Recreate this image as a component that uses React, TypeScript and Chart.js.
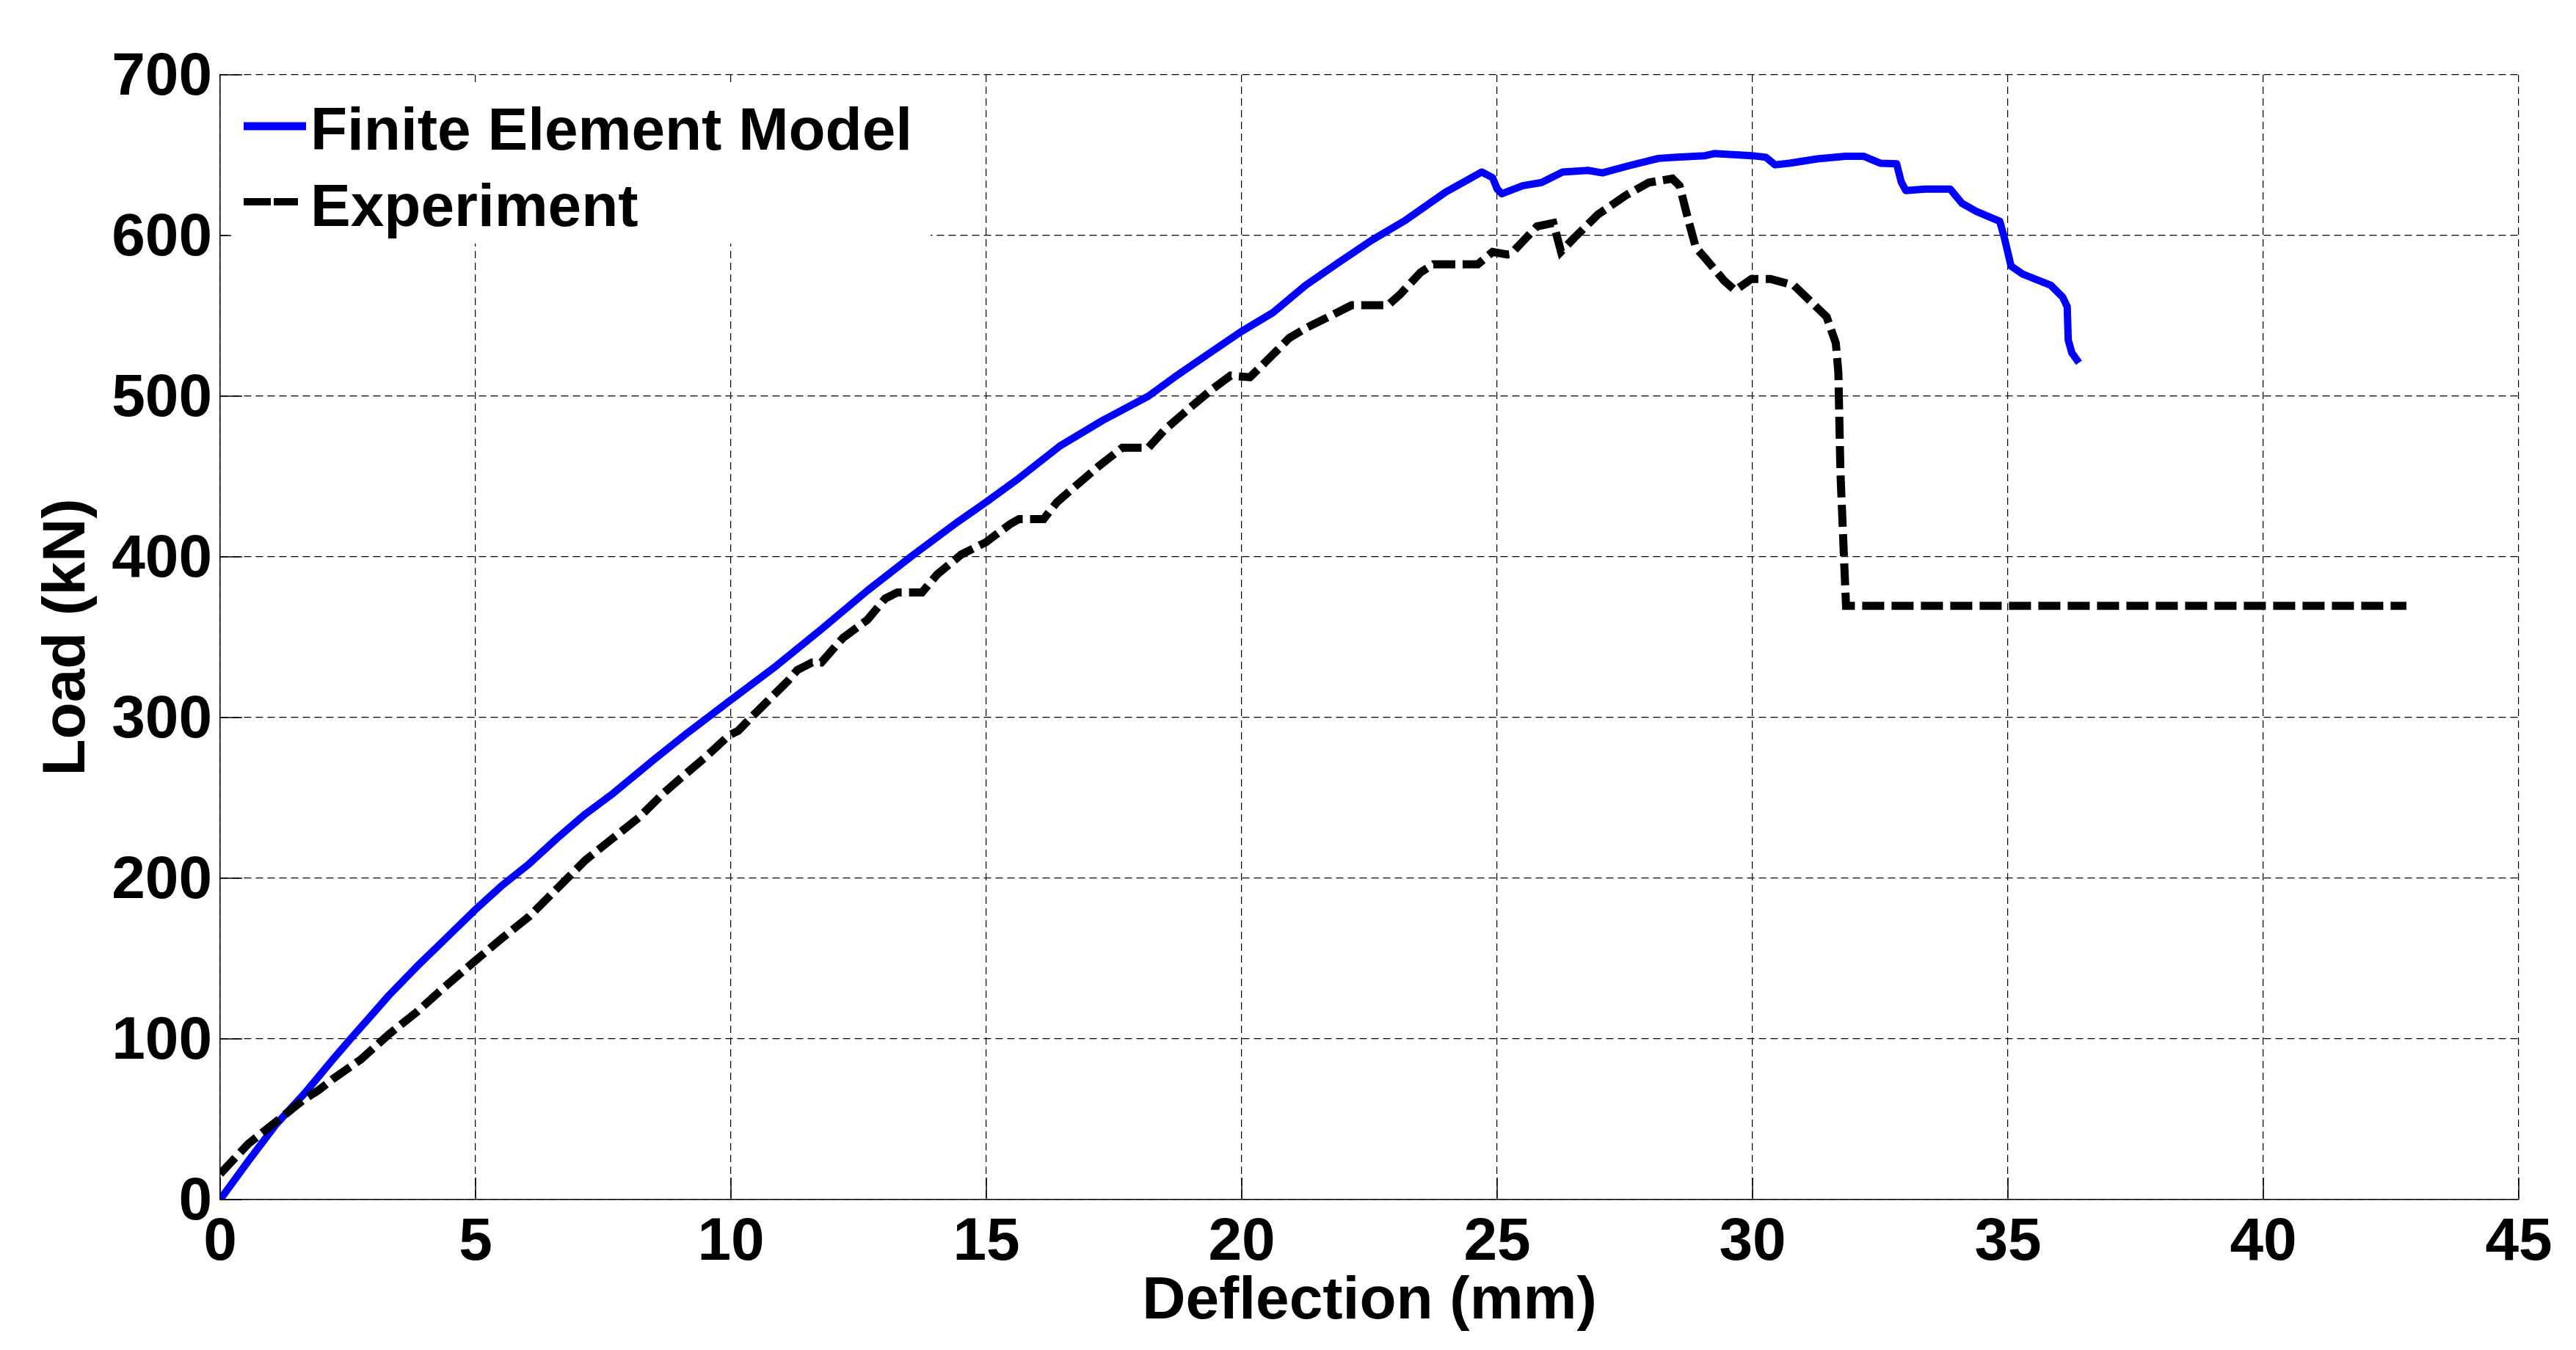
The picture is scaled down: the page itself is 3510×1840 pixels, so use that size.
import React, { useEffect, useRef } from "react";
import { Chart, registerables } from "chart.js";

Chart.register(...registerables);

// ---- data ----
const femDeflection = [
  0, 0.55, 1.1, 1.65, 2.2, 2.58, 2.97, 3.3, 3.85, 4.4, 4.98, 5.5, 6.05, 6.6, 7.15, 7.7,
  8.5, 9.09, 9.96, 10.88, 11.77, 12.67, 13.56, 14.45, 14.99, 15.64, 16.44, 17.28, 18.17,
  18.69, 19.33, 19.98, 20.61, 21.25, 21.89, 22.54, 23.18, 23.99, 24.7, 24.91, 25.0, 25.09,
  25.5, 25.87, 26.28, 26.78, 27.06, 27.6, 28.16, 28.52, 29.07, 29.25, 29.99, 30.26, 30.44,
  30.72, 31.27, 31.82, 32.18, 32.5, 32.82, 32.91, 33.0, 33.37, 33.87, 34.1, 34.38, 34.84,
  34.93, 35.06, 35.29, 35.84, 36.07, 36.16, 36.18, 36.25, 36.39,
];
const femLoad = [
  0, 24, 47, 66, 87, 101, 115, 127, 145, 162, 180, 195, 209, 225, 240, 253,
  274, 289, 310, 332, 355, 379, 401, 422, 434, 449, 469, 485, 500,
  512, 526, 540, 552, 569, 583, 597, 609, 627, 639.5, 636, 629, 626,
  631, 633, 639.5, 640.5, 639, 643.6, 648, 648.7, 649.7, 651, 649.7, 648.7, 644,
  645, 647.7, 649.3, 649.3, 645, 644.6, 633.4, 628, 628.9, 628.9, 620, 615, 608.8,
  598.6, 581, 576, 569, 561.7, 555.6, 535, 527, 520.8,
];
const expDeflection = [
  0, 0.55, 1.1, 1.65, 1.92, 2.2, 2.75, 3.3, 3.85, 4.4, 4.98, 5.5, 6.05, 6.6, 7.15, 7.7,
  8.2, 8.68, 9.09, 9.51, 9.96, 10.14, 10.4, 10.7, 11.12, 11.3, 11.59, 11.77, 12.19, 12.67,
  13.02, 13.26, 13.74, 14.04, 14.51, 14.99, 15.47, 15.64, 16.12, 16.38, 16.76, 17.21,
  17.66, 18.17, 18.49, 19.01, 19.39, 19.78, 20.16, 20.55, 20.93, 21.25, 21.77, 22.15,
  22.86, 23.11, 23.5, 23.75, 24.62, 24.91, 25.2, 25.27, 25.78, 26.1, 26.25, 26.51, 26.97,
  27.52, 27.97, 28.43, 28.57, 28.75, 28.89, 29.07, 29.44, 29.66, 29.98, 30.35, 30.81,
  31.08, 31.45, 31.63, 31.68, 31.72, 31.8, 31.83, 42.8,
];
const expLoad = [
  16, 34.7, 48.6, 62.6, 67.9, 74.9, 87.1, 102.8, 116.8, 132.5, 148.3, 162.2, 176.2, 193.7, 211.2, 225.2,
  237.8, 252.9, 264.3, 275.6, 288.9, 291.7, 300.2, 309.7, 323, 329.6, 334.3, 334.3, 349.5, 360.8,
  374.1, 377.9, 377.9, 389.2, 401.5, 409.1, 420.5, 423.5, 423.5, 434, 444.5, 456.7,
  467.9, 467.9, 479.1, 493.4, 503.6, 512.8, 511.8, 524, 536.2, 542.3, 550.5, 556.6,
  556.6, 563.7, 577, 582.1, 582.1, 589.8, 588.2, 588.5, 605.7, 607.8, 590, 598.6, 613,
  625, 633, 635.4, 631, 608.8, 592.4, 586, 572, 565.8, 573, 573, 569,
  560.7, 549.4, 533, 514.6, 453, 391.8, 369.5, 369.5,
];
const seriesLabels = ["Finite Element Model", "Experiment"];
const xTickValues = [0, 5, 10, 15, 20, 25, 30, 35, 40, 45];
const yTickValues = [0, 100, 200, 300, 400, 500, 600, 700];
const xAxisTitle = "Deflection (mm)";
const yAxisTitle = "Load (kN)";

const FONT = "'Liberation Sans', Arial, Helvetica, sans-serif";

const decorPlugin = {
  id: "decor",
  afterDraw(chart: any) {
    const { ctx, chartArea, scales } = chart;
    const xs = scales.x;
    const ys = scales.y;
    const L = chartArea.left;
    const T = chartArea.top;
    const B = chartArea.bottom;
    ctx.save();
    // inward tick marks
    ctx.strokeStyle = "#000";
    ctx.lineWidth = 1.5;
    ctx.setLineDash([]);
    ctx.beginPath();
    xs.ticks.forEach((t: any) => {
      const px = xs.getPixelForValue(t.value);
      ctx.moveTo(px, B);
      ctx.lineTo(px, B - 30);
    });
    ys.ticks.forEach((t: any) => {
      const py = ys.getPixelForValue(t.value);
      ctx.moveTo(L, py);
      ctx.lineTo(L + 30, py);
    });
    ctx.stroke();

    // legend
    ctx.fillStyle = "#fff";
    ctx.fillRect(L + 15, T + 15, 953, 215);
    const ds = chart.data.datasets;
    // FEM sample
    ctx.strokeStyle = ds[0].borderColor;
    ctx.lineWidth = 11;
    ctx.lineCap = "butt";
    ctx.beginPath();
    ctx.moveTo(L + 32, T + 70);
    ctx.lineTo(L + 117, T + 70);
    ctx.stroke();
    // Experiment sample
    ctx.strokeStyle = ds[1].borderColor;
    ctx.lineWidth = 10;
    ctx.setLineDash([37, 4]);
    ctx.beginPath();
    ctx.moveTo(L + 32, T + 173);
    ctx.lineTo(L + 106, T + 173);
    ctx.stroke();
    ctx.setLineDash([]);
    ctx.fillStyle = "#000";
    ctx.font = `bold 82px ${FONT}`;
    ctx.textAlign = "left";
    ctx.textBaseline = "alphabetic";
    ctx.fillText(ds[0].label, L + 123, T + 102);
    ctx.fillText(ds[1].label, L + 123, T + 206);
    ctx.restore();
  },
};

export default function App() {
  const ref = useRef<HTMLCanvasElement | null>(null);

  useEffect(() => {
    document.body.style.margin = "0";
    document.body.style.overflow = "hidden";
    const canvas = ref.current;
    if (!canvas) return;
    const fem = femDeflection.map((x, i) => ({ x, y: femLoad[i] }));
    const exp = expDeflection.map((x, i) => ({ x, y: expLoad[i] }));
    const tickFont = { family: FONT, size: 82, weight: "bold" as const, lineHeight: 1.2 };
    const chart = new Chart(canvas, {
      type: "line",
      data: {
        datasets: [
          {
            label: seriesLabels[0],
            data: fem,
            borderColor: "#0000ff",
            borderWidth: 10,
            pointRadius: 0,
            tension: 0,
            borderJoinStyle: "round",
            borderCapStyle: "butt",
            order: 1,
          },
          {
            label: seriesLabels[1],
            data: exp,
            borderColor: "#000000",
            borderWidth: 11,
            borderDash: [30, 10],
            pointRadius: 0,
            tension: 0,
            borderJoinStyle: "miter",
            borderCapStyle: "butt",
            order: 0,
          },
        ],
      },
      options: {
        responsive: false,
        animation: false,
        devicePixelRatio: 1,
        layout: { padding: { left: 0, top: 102, right: 78, bottom: 0 } },
        plugins: { legend: { display: false }, tooltip: { enabled: false } },
        scales: {
          x: {
            type: "linear",
            min: 0,
            max: 45,
            afterBuildTicks: (s: any) => {
              s.ticks = xTickValues.map((v) => ({ value: v }));
            },
            afterFit: (s: any) => {
              s.height = 205;
            },
            ticks: {
              font: tickFont,
              color: "#000",
              padding: 10,
              maxRotation: 0,
              autoSkip: false,
            },
            grid: { color: "#000", lineWidth: 1.2, drawTicks: false },
            border: { display: true, color: "#000", width: 1.5, dash: [10, 6] },
            title: {
              display: true,
              text: xAxisTitle,
              color: "#000",
              font: tickFont,
              padding: { top: 0, bottom: 16 },
            },
          },
          y: {
            type: "linear",
            min: 0,
            max: 700,
            afterBuildTicks: (s: any) => {
              s.ticks = yTickValues.map((v) => ({ value: v }));
            },
            afterFit: (s: any) => {
              s.width = 300;
            },
            ticks: {
              font: tickFont,
              color: "#000",
              padding: 11,
              labelOffset: 4,
              autoSkip: false,
            },
            grid: { color: "#000", lineWidth: 1.2, drawTicks: false },
            border: { display: true, color: "#000", width: 1.5, dash: [10, 6] },
            title: {
              display: true,
              text: yAxisTitle,
              color: "#000",
              font: tickFont,
              padding: { top: 43, bottom: 0 },
            },
          },
        },
      },
      plugins: [decorPlugin],
    } as any);
    return () => chart.destroy();
  }, []);

  return (
    <div style={{ position: "absolute", left: 0, top: 0, width: 3510, height: 1840, background: "#fff" }}>
      <canvas ref={ref} width={3510} height={1840} style={{ display: "block", width: 3510, height: 1840 }} />
    </div>
  );
}
